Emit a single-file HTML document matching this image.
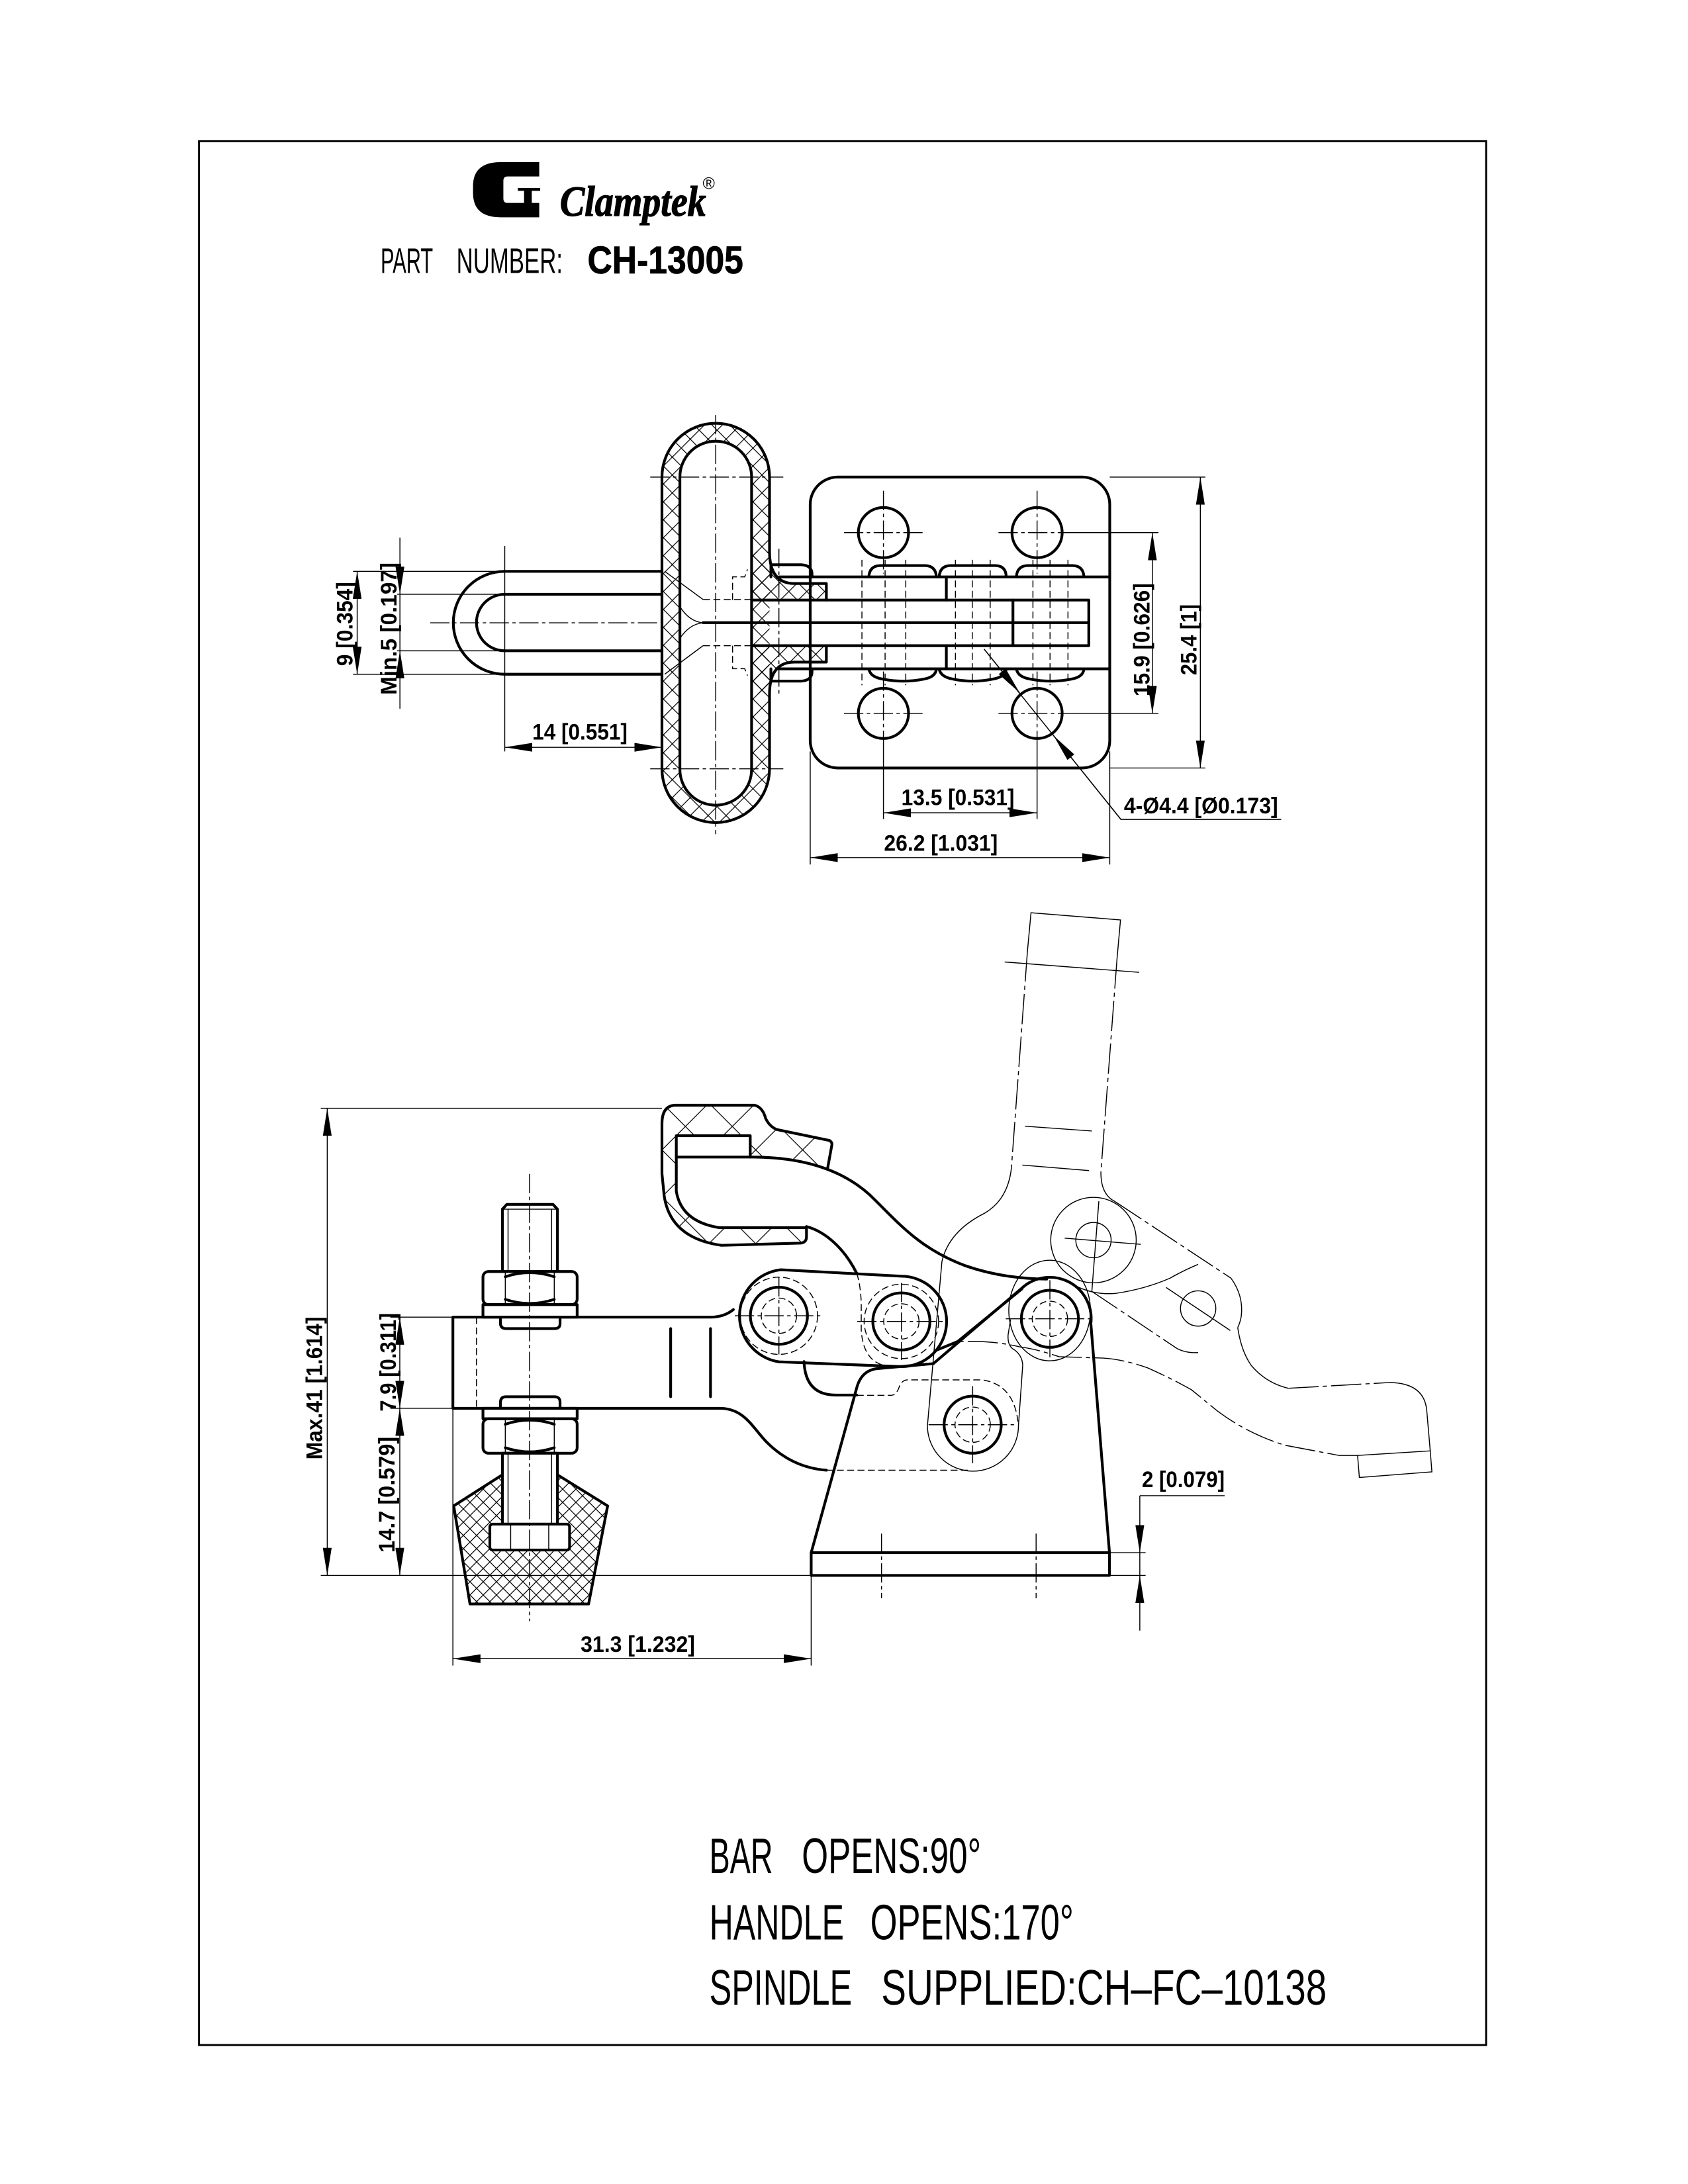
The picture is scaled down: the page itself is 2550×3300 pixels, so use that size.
<!DOCTYPE html>
<html><head><meta charset="utf-8">
<style>
html,body{margin:0;padding:0;background:#fff;}
svg{display:block;}
</style></head><body>
<svg xmlns="http://www.w3.org/2000/svg" width="2550" height="3300" viewBox="0 0 1224 1584">
<style>
.k{fill:none;stroke:#000;stroke-width:2;stroke-linejoin:round;stroke-linecap:round}
.t{fill:none;stroke:#000;stroke-width:0.7}
.dd{fill:none;stroke:#000;stroke-width:0.7;stroke-dasharray:5 2.5}
.cl{fill:none;stroke:#000;stroke-width:0.7;stroke-dasharray:14 2.5 2.5 2.5}
.ph{fill:none;stroke:#000;stroke-width:0.7;stroke-dasharray:22 3 3 3}
.w{fill:#fff;stroke:#000;stroke-width:2;stroke-linejoin:round}
.dim{fill:none;stroke:#000;stroke-width:0.7}
.tx{font-family:"Liberation Sans",sans-serif;font-weight:bold;font-size:16.5px;fill:#000}
.big{font-family:"Liberation Sans",sans-serif;font-size:36px;fill:#000}
</style>
<defs>
<pattern id="h" patternUnits="userSpaceOnUse" width="13" height="13">
<path d="M0,0 L13,13 M13,0 L0,13" stroke="#000" stroke-width="0.6" fill="none"/>
</pattern>
<pattern id="hs" patternUnits="userSpaceOnUse" width="34" height="34" x="480" y="800">
<path d="M0,0 L34,34 M34,0 L0,34" stroke="#000" stroke-width="0.6" fill="none"/>
</pattern>
<pattern id="hd" patternUnits="userSpaceOnUse" width="9.6" height="9.6">
<path d="M0,0 L9.6,9.6 M9.6,0 L0,9.6" stroke="#000" stroke-width="0.6" fill="none"/>
</pattern>
<marker id="ar" viewBox="0 0 20 6.4" refX="20" refY="3.2" markerWidth="20" markerHeight="6.4" markerUnits="userSpaceOnUse" orient="auto-start-reverse"><path d="M0,0 L20,3.2 L0,6.4 z" fill="#000"/></marker>
</defs>
<rect width="1224" height="1584" fill="#fff"/>

<!-- Border -->
<rect x="144.3" y="102.4" width="933.3" height="1380.8" fill="none" stroke="#000" stroke-width="1.4"/>

<!-- Logo -->
<path d="M391,117.6 H363 Q343,117.6 343,135 V140 Q343,157.6 363,157.6 H391 V147.2 H385.6 V138.4 H391.7 V136.3 H375.5 V138.4 H380 V147.2 H368 Q365,147.2 365,144 V131 Q365,128 368,128 H391 Z" fill="#000"/>
<text x="406" y="156.5" font-family="Liberation Serif, serif" font-weight="bold" font-style="italic" font-size="31" stroke="#000" stroke-width="0.6" textLength="106" lengthAdjust="spacingAndGlyphs">Clamptek</text>
<text x="509.5" y="137" font-family="Liberation Sans, sans-serif" font-size="12">®</text>
<text x="276" y="198" font-family="Liberation Sans, sans-serif" font-size="26" textLength="38" lengthAdjust="spacingAndGlyphs">PART</text>
<text x="331" y="198" font-family="Liberation Sans, sans-serif" font-size="26" textLength="77" lengthAdjust="spacingAndGlyphs">NUMBER:</text>
<text x="426" y="198.3" font-family="Liberation Sans, sans-serif" font-weight="bold" font-size="28" stroke="#000" stroke-width="0.4" textLength="113" lengthAdjust="spacingAndGlyphs">CH-13005</text>

<!-- ============ TOP VIEW ============ -->
<path d="M480,346 A39,39 0 0 1 558,346 V557.6 A39,39 0 0 1 480,557.6 Z M493,346 A26,26 0 0 1 545,346 V558 A26,26 0 0 1 493,558 Z" fill="url(#h)" fill-rule="evenodd"/>
<path d="M545.6,400 H558 Q558,423.2 576,423.2 H599.2 V435.2 H545.6 Z" fill="url(#h)"/>
<path d="M545.6,503.4 H558 Q558,480.2 576,480.2 H599.2 V468.3 H545.6 Z" fill="url(#h)"/>
<path class="k" d="M558,400 V346 A39,39 0 0 0 480,346 V557.6 A39,39 0 0 0 558,557.6 V503.4"/>
<path class="k" d="M558,400 Q558,423.2 576,423.2 H599.2 V435.2"/>
<path class="k" d="M558,503.4 Q558,480.2 576,480.2 H599.2 V468.3"/>
<path class="k" d="M493,346 A26,26 0 0 1 545,346 V558 A26,26 0 0 1 493,558 Z"/>
<path class="k" d="M559,418.4 V409.6 H581 Q588.5,410 588.8,416 V418.4"/>
<path class="k" d="M559,485.1 V494 H581 Q588.5,493.5 588.8,487.6 V485.1"/>
<path class="cl" d="M519,301 V605 M471.5,346 H568 M471.5,557.6 H568"/>
<path class="t" d="M482,414.4 L509.8,434.8 M482,489 L509.8,468.3 M493,440 Q500,451 509.8,451.7 M493,463 Q500,452.5 509.8,451.7"/>
<path class="dd" d="M509.8,434.8 H545.6 M509.8,468.3 H545.6 M531.2,435.2 V418.4 H540 L542,413 M531.2,468.3 V485 H540 L542,490"/>
<path class="k" d="M480,414.4 H366 A37.3,37.3 0 0 0 366,489 H480"/>
<path class="k" d="M480,431 H366 A20.5,20.5 0 0 0 366,472 H480"/>
<path class="cl" d="M312,451.7 H480"/>
<rect x="587.5" y="346" width="217.2" height="211" rx="20" class="k"/>
<path class="k" d="M545.6,435.2 H789.5 V468.3 H545.6"/>
<path class="k" d="M509.8,451.6 H789.5"/>
<path class="k" d="M564.8,418.4 H804.7 M564.8,485.1 H804.7"/>
<path class="k" d="M686.2,418.4 V435.2 M686.2,468.3 V485.1 M734.5,435.2 V468.3"/>
<path class="k" d="M630,418.4 Q630.5,410.5 638,410.2 H671 Q678.5,410.5 679,418.4 M681,418.4 Q681.5,410.5 689,410.2 H722 Q729.5,410.5 729.6,418.4 M737,418.4 Q737.5,410.5 745,410.2 H778 Q785.5,410.5 786,418.4"/>
<path class="k" d="M630,485.1 Q631,491 640,492.5 Q655,495.5 670,492.5 Q678.5,491 679,485.1 M681,485.1 Q682,491 691,492.5 Q705,495.5 720,492.5 Q729,491 729.6,485.1 M737,485.1 Q738,491 747,492.5 Q762,495.5 777,492.5 Q785.5,491 786,485.1"/>
<path class="dd" d="M625,406 V497 M641.8,406 V497 M656.8,406 V497 M692.8,406 V497 M705,406 V497 M718,406 V497 M749,406 V497 M761.4,406 V497 M774.4,406 V497"/>
<path class="cl" d="M564.8,398 V505"/>
<circle cx="640.6" cy="386.3" r="18.2" class="k"/>
<circle cx="752" cy="386.3" r="18.2" class="k"/>
<circle cx="640.6" cy="517.4" r="18.2" class="k"/>
<circle cx="752" cy="517.4" r="18.2" class="k"/>
<path class="cl" d="M612,386.3 H669 M640.6,356 V416 M724,386.3 H780 M752,356 V416 M612,517.4 H669 M640.6,487 V540 M724,517.4 H780 M752,487 V540"/>

<!-- top view dims -->
<path class="dim" d="M256,414.4 H366 M256,489 H366 M288,431 H366 M288,472 H366 M366,396 V545"/>
<path class="dim" d="M259,414.4 V489" marker-start="url(#ar)" marker-end="url(#ar)"/>
<path class="dim" d="M290,390 V431" marker-end="url(#ar)"/>
<path class="dim" d="M290,514 V472" marker-end="url(#ar)"/>
<path class="dim" d="M290,431 V472"/>
<text class="tx" transform="translate(255.5,452.5) rotate(-90)" text-anchor="middle" textLength="61" lengthAdjust="spacingAndGlyphs">9 [0.354]</text>
<text class="tx" transform="translate(287.5,456) rotate(-90)" text-anchor="middle" textLength="96" lengthAdjust="spacingAndGlyphs">Min.5 [0.197]</text>
<path class="dim" d="M366,542 H480" marker-start="url(#ar)" marker-end="url(#ar)"/>
<text class="tx" x="386" y="536.5" textLength="69" lengthAdjust="spacingAndGlyphs">14 [0.551]</text>

<path class="dim" d="M804.7,346 H874 M804.7,557 H874"/>
<path class="dim" d="M870.4,346 V557" marker-start="url(#ar)" marker-end="url(#ar)"/>
<text class="tx" transform="translate(867.5,464) rotate(-90)" text-anchor="middle" textLength="51.5" lengthAdjust="spacingAndGlyphs">25.4 [1]</text>
<path class="dim" d="M780,386.3 H840 M780,517.4 H840"/>
<path class="dim" d="M835.6,386.3 V517.4" marker-start="url(#ar)" marker-end="url(#ar)"/>
<text class="tx" transform="translate(833.5,464) rotate(-90)" text-anchor="middle" textLength="82" lengthAdjust="spacingAndGlyphs">15.9 [0.626]</text>

<path class="dim" d="M640.6,540 V594 M752,540 V594"/>
<path class="dim" d="M640.6,589.5 H752" marker-start="url(#ar)" marker-end="url(#ar)"/>
<text class="tx" x="653.6" y="584" textLength="82" lengthAdjust="spacingAndGlyphs">13.5 [0.531]</text>
<path class="dim" d="M587.5,545 V627 M804.7,545 V627"/>
<path class="dim" d="M587.5,622 H804.7" marker-start="url(#ar)" marker-end="url(#ar)"/>
<text class="tx" x="641" y="617" textLength="82.5" lengthAdjust="spacingAndGlyphs">26.2 [1.031]</text>
<path class="dim" d="M713.6,470.8 L812.8,594.3 H929"/>
<path class="dim" d="M713.6,470.8 L739.3,502.4" marker-end="url(#ar)"/>
<path class="dim" d="M812.8,594.3 L764,533.6" marker-end="url(#ar)"/>
<text class="tx" x="815" y="590" textLength="111.7" lengthAdjust="spacingAndGlyphs">4-Ø4.4 [Ø0.173]</text>

<!-- ============ SIDE VIEW ============ -->
<path class="t" d="M745,690 L747.6,662 L812.5,667.2 L810,695"/>
<path class="ph" d="M745,690 L733.4,847 M810,695 L798.3,849.8"/>
<path class="t" d="M728.5,697.7 L826,705.2 M743.2,816.8 L791.7,820.3 M741.3,845 L789.7,849"/>
<path class="t" d="M733.4,847 Q731,870 713.8,880 Q688,893 683,915 L672.5,1034 A33,33 0 0 0 738.5,1034 L741.6,990 Q741,982 734,978 Q730.5,975 731,968 L732.8,957"/>
<ellipse cx="761.1" cy="950.5" rx="29.6" ry="36.5" class="t"/>
<path class="t" d="M798.3,849.8 Q798,864 806,870 Q808,871 809.3,872"/>
<path class="ph" d="M809.3,872 L892.6,927"/>
<circle cx="792.9" cy="899.4" r="31" class="t"/>
<circle cx="792.9" cy="899.4" r="12.8" class="t"/>
<path class="t" d="M772,898 L827.2,902.5 M796.8,871.2 L791.7,936.8"/>
<path class="t" d="M772.6,928.3 Q790,940 809.3,938 Q830,935 848.5,927 Q858,921.5 868.8,917"/>
<path class="t" d="M892.6,927 Q902,940 900,955 Q899,960 897.5,962.8"/>
<circle cx="868.8" cy="949" r="12.8" class="t"/>
<path class="t" d="M845.6,933.8 L892.1,965"/>
<path class="ph" d="M792,936.8 L853.4,978"/>
<path class="t" d="M853.4,978 Q860,981.5 868.8,981"/>
<path class="t" d="M897.5,962.8 Q900,980 907.3,990.3 Q918,1003 934.2,1006.9"/>
<path class="ph" d="M934.2,1006.9 L1007.7,1002.7"/>
<path class="t" d="M1007.7,1002.7 Q1033,1003 1034.6,1023.4 L1037.1,1052.3 L984.4,1055.6 L985.7,1071.6 L1038.3,1067.5 L1037.1,1052.3"/>
<path class="ph" d="M984.4,1055.6 L971,1055.6 L931.8,1048.2 Q905,1040 882.8,1023.4 L864,1008 Q850,1000 832,992 Q815,986 800,985 L768,984 Q750,978 740,977 Q720,972 696,973"/>

<!-- handle grip -->
<path d="M489.6,801.6 L547.2,801.6 Q553,803 555.2,811.2 Q558,817 563.2,819.2 L601.6,827.2 Q603.5,828.5 603.2,830.4 L600,848 C585,842 565,839.2 544,839.2 V823.7 H490.4 V864 Q494,886 521.6,890.4 H584 V899.2 Q584,901.6 580.8,901.6 L523.2,903.2 Q486,898 481.6,867.2 L480,851.2 V815 Q480,802 489.6,801.6 Z" fill="url(#hs)"/>
<path class="k" d="M600,848 L603.2,830.4 Q603.5,828.5 601.6,827.2 L563.2,819.2 Q558,817 555.2,811.2 Q553,803 547.2,801.6 L489.6,801.6 Q480,802 480,815 V851.2 L481.6,867.2 Q486,898 523.2,903.2 L580.8,901.6 Q584.8,901 584.8,897 V889.6"/>
<path class="k" d="M490.4,823.7 H544 V839.2 H490.4 Z"/>
<path class="k" d="M490.4,839.2 V864 Q494,886 521.6,890.4 H584.8"/>
<path class="k" d="M544,839.2 C585,839 612,850 630,866 C650,885 665,905 700,918 C720,925 740,927.5 759,927.7"/>
<path class="k" d="M584.8,889.6 C598,893 612,905 621.3,923.6"/>
<path class="dd" d="M621.3,923.6 Q624,932 624.5,945 V965 Q626,986 640,990"/>

<!-- clamp arm -->
<path class="k" d="M531.8,949.8 Q525,955.3 515.2,955.3 H328.4 V1021.4 H522 C540,1021.4 546,1036 556,1046 C568,1058 582,1065 599.3,1066.3"/>
<path class="dd" d="M599.3,1066.3 H704"/>
<path class="k" d="M486.3,963.6 V1013 M515.2,963.6 V1013"/>
<path class="dd" d="M345.5,955.3 V1021.4"/>

<!-- link -->
<path class="k" d="M566.2,920.9 L653.6,925.6 A32.8,32.8 0 0 1 653.6,991.2 L564.8,987.7 A33.7,33.7 0 0 1 566.2,920.9 Z"/>
<path class="k" d="M583,987.5 Q584,1011.8 606,1011.8 H621.3"/>
<path class="dd" d="M621.3,1012 H646 Q650,1012 652,1006 Q654,1000.8 658,1000.8 H712 Q736,1004 738.4,1033.6"/>
<circle cx="564.8" cy="954.3" r="28" class="dd"/>
<circle cx="653.6" cy="958.4" r="27" class="dd"/>

<!-- base body -->
<path class="k" d="M588.2,1126.1 L621.3,1006.3 Q625,993 637.8,992.5 L676.8,989 L740.8,934.4 A30,30 0 0 1 791,960 L804.5,1126.1"/>
<path class="k" d="M678.5,979.5 L694.4,973 L741,934.8"/>
<rect x="588.2" y="1126.1" width="216.3" height="16.5" class="k"/>
<path class="cl" d="M639.2,1112.3 V1159.2 M751.3,1112.3 V1159.2"/>

<!-- pins -->
<g>
<circle cx="564.8" cy="954.3" r="20.7" class="k"/><circle cx="564.8" cy="954.3" r="12.8" class="dd"/>
<circle cx="653.6" cy="958.4" r="20.7" class="k"/><circle cx="653.6" cy="958.4" r="12.8" class="dd"/>
<circle cx="761.3" cy="956.5" r="20.7" class="k"/><circle cx="761.3" cy="956.5" r="12.8" class="dd"/>
<circle cx="705.3" cy="1033.3" r="20.7" class="k"/><circle cx="705.3" cy="1033.3" r="12.8" class="dd"/>
<path class="cl" d="M532.8,954.3 H596.8 M564.8,926.3 V982.3 M621.6,958.4 H685.6 M653.6,930.4 V986.4 M729.3,956.5 H793.3 M761.3,928.5 V984.5 M673.3,1033.3 H737.3 M705.3,1005.3 V1061.3"/>
</g>

<!-- spindle & nuts -->
<path class="w" d="M364.3,922.2 V877 L367.5,873.5 H401 L404.2,877 V922.2 Z"/>
<path class="t" d="M368.4,877 V922.2 M400,877 V922.2 M364.3,877 H404.2"/>
<rect x="350.2" y="922.2" width="68.3" height="24" rx="4" class="w"/>
<path class="t" d="M366.4,922.2 V946.2 M401.9,922.2 V946.2"/>
<path class="k" d="M366.4,926 Q384,920 401.9,926 M366.4,942.4 Q384,948.4 401.9,942.4"/>
<rect x="350.2" y="946.2" width="68.3" height="9.1" class="w"/>
<path class="w" d="M362.9,955.3 V960 Q363,963.6 367,963.6 H402 Q406.1,963.6 406.1,960 V955.3 Z"/>
<path class="w" d="M362.9,1021.4 V1017 Q363,1013 367,1013 H402 Q406.1,1013 406.1,1017 V1021.4 Z"/>

<polygon points="329,1092.2 364.3,1069.6 404.2,1069.6 440.6,1092.2 426.8,1163.3 340.8,1163.3" fill="url(#hd)" stroke="#000" stroke-width="2" stroke-linejoin="round"/>
<rect x="350.2" y="1021.4" width="68.3" height="7.6" class="w"/>
<rect x="350.2" y="1029" width="68.3" height="25" rx="4" class="w"/>
<path class="t" d="M366.4,1029 V1054 M401.9,1029 V1054"/>
<path class="k" d="M366.4,1033 Q384,1027 401.9,1033 M366.4,1050 Q384,1056 401.9,1050"/>
<rect x="364.3" y="1054" width="39.9" height="51.4" class="w"/>
<path class="t" d="M368.4,1054 V1105.4 M400,1054 V1105.4"/>
<rect x="355.2" y="1105.4" width="57.8" height="18.8" rx="2" class="w"/>
<path class="t" d="M370.3,1105.4 V1124.2 M397.9,1105.4 V1124.2"/>
<path class="cl" d="M384,851.4 V1175.7"/>

<!-- side view dims -->
<path class="dim" d="M232.6,803.8 H480 M232.6,1142.6 H588.2"/>
<path class="dim" d="M237.3,803.8 V1142.6" marker-start="url(#ar)" marker-end="url(#ar)"/>
<text class="tx" transform="translate(233.5,1006.8) rotate(-90)" text-anchor="middle" textLength="103.6" lengthAdjust="spacingAndGlyphs">Max.41 [1.614]</text>
<path class="dim" d="M283,955.3 H328.4 M283,1021.4 H328.4"/>
<path class="dim" d="M289.9,955.3 V1021.4" marker-start="url(#ar)" marker-end="url(#ar)"/>
<path class="dim" d="M289.9,1021.4 V1142.6" marker-start="url(#ar)" marker-end="url(#ar)"/>
<text class="tx" transform="translate(287,988) rotate(-90)" text-anchor="middle" textLength="71.5" lengthAdjust="spacingAndGlyphs">7.9 [0.311]</text>
<text class="tx" transform="translate(286,1084) rotate(-90)" text-anchor="middle" textLength="84" lengthAdjust="spacingAndGlyphs">14.7 [0.579]</text>
<path class="dim" d="M328.4,1021.4 V1208 M588.2,1142.6 V1208"/>
<path class="dim" d="M328.4,1203 H588.2" marker-start="url(#ar)" marker-end="url(#ar)"/>
<text class="tx" x="421" y="1198" textLength="83" lengthAdjust="spacingAndGlyphs">31.3 [1.232]</text>
<path class="dim" d="M804.5,1126.1 H830.7 M804.5,1142.6 H830.7"/>
<path class="dim" d="M826.5,1084.8 V1126.1" marker-end="url(#ar)"/>
<path class="dim" d="M826.5,1182.6 V1142.6" marker-end="url(#ar)"/>
<path class="dim" d="M826.5,1126.1 V1142.6 M826.5,1084.8 H888"/>
<text class="tx" x="828" y="1078.5" textLength="60" lengthAdjust="spacingAndGlyphs">2 [0.079]</text>

<!-- notes -->
<text class="big" x="514.4" y="1358.5" textLength="46" lengthAdjust="spacingAndGlyphs">BAR</text>
<text class="big" x="581.4" y="1358.5" textLength="130" lengthAdjust="spacingAndGlyphs">OPENS:90°</text>
<text class="big" x="514.4" y="1406.6" textLength="97.6" lengthAdjust="spacingAndGlyphs">HANDLE</text>
<text class="big" x="631" y="1406.6" textLength="147.5" lengthAdjust="spacingAndGlyphs">OPENS:170°</text>
<text class="big" x="514.4" y="1454" textLength="103.4" lengthAdjust="spacingAndGlyphs">SPINDLE</text>
<text class="big" x="639" y="1454" textLength="323" lengthAdjust="spacingAndGlyphs">SUPPLIED:CH–FC–10138</text>
</svg>
</body></html>
